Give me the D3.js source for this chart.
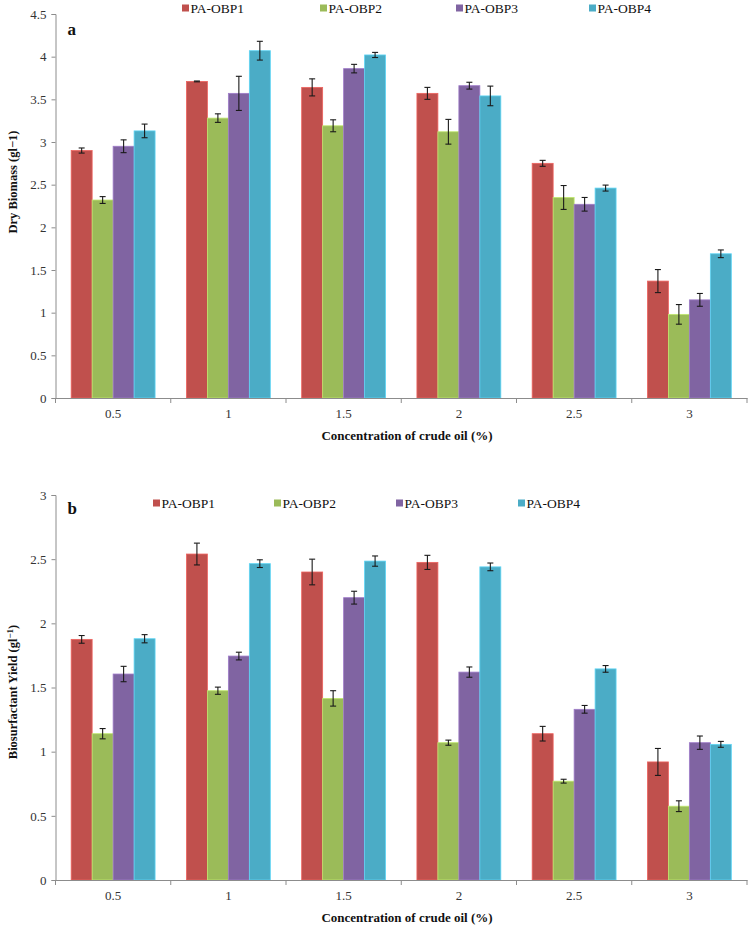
<!DOCTYPE html>
<html><head><meta charset="utf-8">
<script src="https://cdn.jsdelivr.net/npm/d3@7"></script>
<style>
html,body{margin:0;padding:0;background:#fff;}
svg{display:block;font-family:"Liberation Serif","Times New Roman",serif;}
</style></head>
<body>
<svg id="chart" width="752" height="928"></svg>
<script>
const categories = ["0.5","1","1.5","2","2.5","3"];
const seriesNames = ["PA-OBP1","PA-OBP2","PA-OBP3","PA-OBP4"];
const colors = ["#C0504D","#9BBB59","#8064A2","#4BACC6"];

// Panel a: Dry biomass (g/l)
const biomassOBP1 = [2.90, 3.71, 3.64, 3.57, 2.75, 1.37];
const biomassOBP2 = [2.32, 3.28, 3.19, 3.12, 2.35, 0.98];
const biomassOBP3 = [2.95, 3.57, 3.86, 3.66, 2.27, 1.15];
const biomassOBP4 = [3.13, 4.07, 4.02, 3.54, 2.46, 1.69];
const biomassErr1 = [0.03, 0.005, 0.10, 0.07, 0.035, 0.135];
const biomassErr2 = [0.04, 0.05, 0.07, 0.145, 0.14, 0.115];
const biomassErr3 = [0.075, 0.20, 0.05, 0.04, 0.08, 0.075];
const biomassErr4 = [0.08, 0.11, 0.03, 0.115, 0.035, 0.045];
const biomassTicks = [0,0.5,1,1.5,2,2.5,3,3.5,4,4.5];

// Panel b: Biosurfactant yield (g/l)
const yieldOBP1 = [1.875, 2.54, 2.40, 2.475, 1.14, 0.92];
const yieldOBP2 = [1.14, 1.475, 1.415, 1.07, 0.77, 0.575];
const yieldOBP3 = [1.605, 1.745, 2.20, 1.62, 1.33, 1.07];
const yieldOBP4 = [1.88, 2.465, 2.485, 2.44, 1.645, 1.057];
const yieldErr1 = [0.03, 0.085, 0.10, 0.055, 0.057, 0.105];
const yieldErr2 = [0.04, 0.028, 0.06, 0.02, 0.015, 0.042];
const yieldErr3 = [0.06, 0.03, 0.05, 0.04, 0.03, 0.052];
const yieldErr4 = [0.032, 0.03, 0.04, 0.03, 0.026, 0.023];
const yieldTicks = [0,0.5,1,1.5,2,2.5,3];

const svg = d3.select("#chart");

function panel(opts){
  const g = svg.append("g");
  const x0 = d3.scaleBand().domain(categories).range([opts.left, opts.right]).padding(0);
  const bw = x0.bandwidth();
  const x1 = d3.scaleBand().domain(seriesNames).range([bw*0.136, bw*0.864]).padding(0);
  const y = d3.scaleLinear().domain([0, opts.ymax]).range([opts.bottom, opts.top]);

  // bars
  opts.values.forEach((vals, si) => {
    const grp = g.append("g");
    grp.selectAll("rect").data(vals).join("rect")
      .attr("x", (d,i) => x0(categories[i]) + x1(seriesNames[si]))
      .attr("width", x1.bandwidth())
      .attr("y", d => y(d))
      .attr("height", d => y(0) - y(d))
      .attr("fill", colors[si])
      .attr("stroke", d3.color(colors[si]).brighter(0.6))
      .attr("stroke-width", 0.8);
  });
  // error bars
  opts.values.forEach((vals, si) => {
    const errs = opts.errors[si];
    const eg = g.append("g").attr("stroke", "#1a1a1a").attr("stroke-width", 1.1);
    vals.forEach((v, i) => {
      const cx = x0(categories[i]) + x1(seriesNames[si]) + x1.bandwidth()/2;
      const e = errs[i];
      eg.append("line").attr("x1", cx).attr("x2", cx).attr("y1", y(v+e)).attr("y2", y(v-e));
      eg.append("line").attr("x1", cx-3).attr("x2", cx+3).attr("y1", y(v+e)).attr("y2", y(v+e));
      eg.append("line").attr("x1", cx-3).attr("x2", cx+3).attr("y1", y(v-e)).attr("y2", y(v-e));
    });
  });

  // y axis
  const ya = g.append("g").attr("transform", `translate(${opts.left},0)`)
    .call(d3.axisLeft(y).tickValues(opts.ticks).tickFormat(d => String(d)).tickSize(4).tickPadding(5));
  ya.select(".domain").attr("stroke", "#8c8c8c");
  ya.selectAll(".tick line").attr("stroke", "#8c8c8c");
  ya.selectAll(".tick text").attr("fill", "#333").style("font-size", "13px").style("font-family", '"Liberation Serif",serif');

  // x axis
  const xa = g.append("g").attr("transform", `translate(0,${opts.bottom})`)
    .call(d3.axisBottom(x0).tickSize(0).tickPadding(11));
  xa.select(".domain").attr("stroke", "#8c8c8c");
  xa.selectAll(".tick text").attr("fill", "#333").style("font-size", "13px").style("font-family", '"Liberation Serif",serif');
  const bounds = categories.map(c => x0(c)).concat([x0(categories[categories.length-1]) + bw]);
  xa.selectAll("line.bound").data(bounds).join("line").attr("class","bound")
    .attr("x1", d => d).attr("x2", d => d).attr("y1", 0).attr("y2", 5)
    .attr("stroke", "#8c8c8c");

  // panel letter
  g.append("text").attr("x", opts.left + 12).attr("y", opts.letterY)
    .attr("font-weight", "bold").attr("font-size", 17).attr("fill", "#111").text(opts.letter);

  // y title
  const yt = g.append("text")
    .attr("transform", `translate(${opts.yTitleX},${opts.yTitleY}) rotate(-90)`)
    .attr("text-anchor", "middle").attr("font-weight", "bold").attr("font-size", 12.5).attr("fill", "#111");
  opts.yTitle(yt);

  // x title
  g.append("text").attr("x", 407).attr("y", opts.xTitleY).attr("text-anchor", "middle")
    .attr("font-weight", "bold").attr("font-size", 13).attr("fill", "#111")
    .text("Concentration of crude oil (%)");

  // legend
  const lg = g.append("g");
  seriesNames.forEach((s, i) => {
    const lx = opts.legendX[i];
    lg.append("rect").attr("x", lx).attr("y", opts.legendY - 3.5).attr("width", 7).attr("height", 7).attr("fill", colors[i]);
    lg.append("text").attr("x", lx + 8.5).attr("y", opts.legendY + 4.5).attr("font-size", 13.5).attr("fill", "#111").text(s);
  });
}

panel({
  left: 55.5, right: 747, top: 14, bottom: 398, ymax: 4.5, ticks: biomassTicks,
  values: [biomassOBP1, biomassOBP2, biomassOBP3, biomassOBP4],
  errors: [biomassErr1, biomassErr2, biomassErr3, biomassErr4],
  letter: "a", letterY: 35,
  yTitleX: 17, yTitleY: 182,
  yTitle: t => t.text("Dry Biomass (gl\u22121)"),
  xTitleY: 440,
  legendX: [182, 320, 456, 589], legendY: 8
});

panel({
  left: 55.5, right: 747, top: 495, bottom: 880, ymax: 3, ticks: yieldTicks,
  values: [yieldOBP1, yieldOBP2, yieldOBP3, yieldOBP4],
  errors: [yieldErr1, yieldErr2, yieldErr3, yieldErr4],
  letter: "b", letterY: 514,
  yTitleX: 17, yTitleY: 692,
  yTitle: t => {
    t.append("tspan").text("Biosurfactant Yield (gl");
    t.append("tspan").attr("dy", -4).attr("font-size", 9).text("\u22121");
    t.append("tspan").attr("dy", 4).text(")");
  },
  xTitleY: 922,
  legendX: [153, 274, 396, 518], legendY: 503
});
</script>
</body></html>
